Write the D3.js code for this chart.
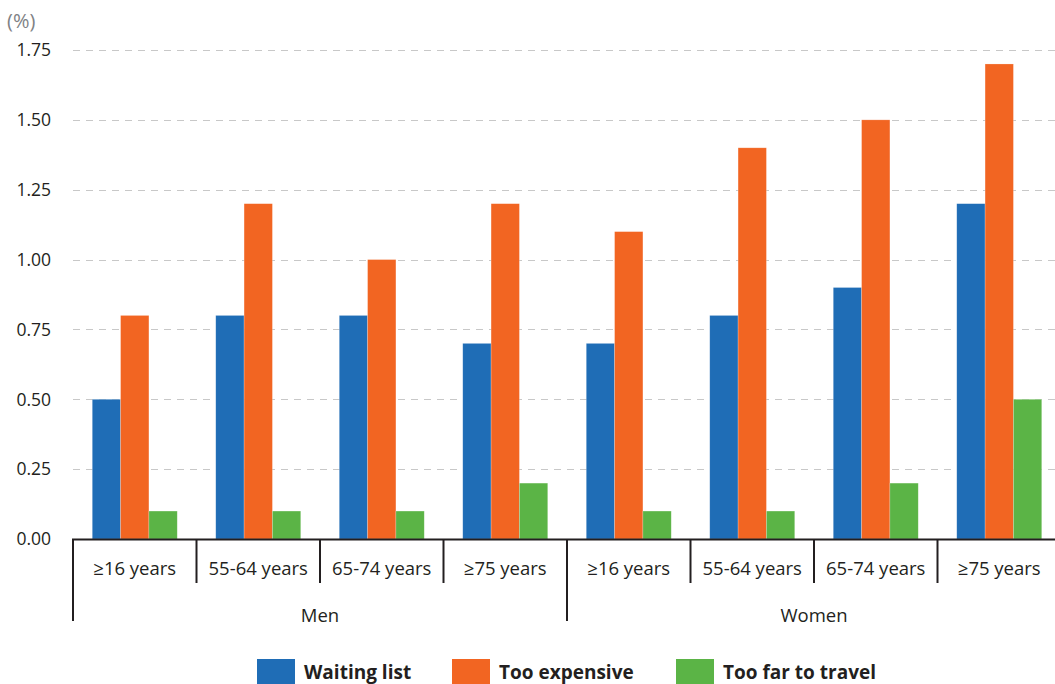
<!DOCTYPE html>
<html><head><meta charset="utf-8">
<script src="https://cdn.jsdelivr.net/npm/d3@7"></script>
<style>
html,body{margin:0;padding:0;background:#fff;overflow:hidden}
svg{display:block;font-family:"Open Sans","Noto Sans",sans-serif}
</style></head><body>
<svg id="chart" width="1055" height="684"></svg>
<script>
const groups = ["Men", "Women"];
const ageLabels = ["\u226516 years", "55-64 years", "65-74 years", "\u226575 years"];
const seriesNames = ["Waiting list", "Too expensive", "Too far to travel"];
const seriesColors = ["#1f6db6", "#f26522", "#5bb446"];
const waitingList = [0.5, 0.8, 0.8, 0.7, 0.7, 0.8, 0.9, 1.2];
const tooExpensive = [0.8, 1.2, 1.0, 1.2, 1.1, 1.4, 1.5, 1.7];
const tooFar = [0.1, 0.1, 0.1, 0.2, 0.1, 0.1, 0.2, 0.5];
const yTicks = [0, 0.25, 0.5, 0.75, 1.0, 1.25, 1.5, 1.75];

const svg = d3.select("#chart");
const left = 73, right = 1061, y0 = 539, yTop = 50;

const cats = [];
groups.forEach(g => ageLabels.forEach(a => cats.push(g + "|" + a)));
const values = [waitingList, tooExpensive, tooFar];

const x = d3.scaleBand().domain(cats).range([left, right]).padding(0);
const xs = d3.scaleBand().domain(seriesNames).range([0, x.bandwidth()]).paddingInner(0).paddingOuter(0.68);
const y = d3.scaleLinear().domain([0, 1.75]).range([y0, yTop]);

// gridlines
svg.append("g").selectAll("line").data(yTicks.filter(t => t > 0)).join("line")
  .attr("x1", left).attr("x2", 1055)
  .attr("y1", d => Math.round(y(d)) + 0.5).attr("y2", d => Math.round(y(d)) + 0.5)
  .attr("stroke", "#c8c8c8").attr("stroke-width", 1.2).attr("stroke-dasharray", "7,6");

// y labels
svg.append("g").selectAll("text").data(yTicks).join("text")
  .attr("x", 51).attr("y", d => y(d)).attr("dy", "0.36em")
  .attr("text-anchor", "end").attr("font-size", 17.5).attr("fill", "#231f20")
  .text(d => d3.format(".2f")(d));

svg.append("text").attr("x", 7).attr("y", 28).attr("font-size", 20).attr("fill", "#808285").text("(%)");

// bars
const barData = [];
cats.forEach((c, i) => seriesNames.forEach((s, j) => barData.push({c, s, v: values[j][i], color: seriesColors[j]})));
svg.append("g").selectAll("rect").data(barData).join("rect")
  .attr("x", d => x(d.c) + xs(d.s))
  .attr("y", d => y(d.v))
  .attr("width", xs.bandwidth())
  .attr("height", d => y0 - y(d.v))
  .attr("fill", d => d.color)
  .attr("stroke", "rgba(255,255,255,0.35)").attr("stroke-width", 0.6);

// axis line
svg.append("line").attr("x1", left - 1).attr("x2", 1055).attr("y1", y0 + 0.5).attr("y2", y0 + 0.5)
  .attr("stroke", "#231f20").attr("stroke-width", 2.2);

// category separators
cats.forEach((c, i) => {
  const xx = x(c);
  const major = i % ageLabels.length === 0;
  svg.append("line").attr("x1", xx).attr("x2", xx).attr("y1", y0).attr("y2", major ? 621 : 583)
    .attr("stroke", "#231f20").attr("stroke-width", 2);
});

// tick labels
svg.append("g").selectAll("text").data(cats).join("text")
  .attr("x", d => x(d) + x.bandwidth() / 2).attr("y", 575)
  .attr("text-anchor", "middle").attr("font-size", 18.5).attr("fill", "#231f20")
  .text(d => d.split("|")[1]);

// group labels
groups.forEach(g => {
  const first = x(g + "|" + ageLabels[0]);
  const last = x(g + "|" + ageLabels[ageLabels.length - 1]) + x.bandwidth();
  svg.append("text").attr("x", (first + last) / 2).attr("y", 622)
    .attr("text-anchor", "middle").attr("font-size", 18.5).attr("fill", "#231f20").text(g);
});

// legend
const legX = [257, 452, 676];
seriesNames.forEach((s, i) => {
  svg.append("rect").attr("x", legX[i]).attr("y", 659).attr("width", 38).attr("height", 25).attr("fill", seriesColors[i]);
  svg.append("text").attr("x", legX[i] + 47).attr("y", 679).attr("font-size", 19).attr("font-weight", "bold")
    .attr("fill", "#231f20").text(s);
});
</script>
</body></html>
